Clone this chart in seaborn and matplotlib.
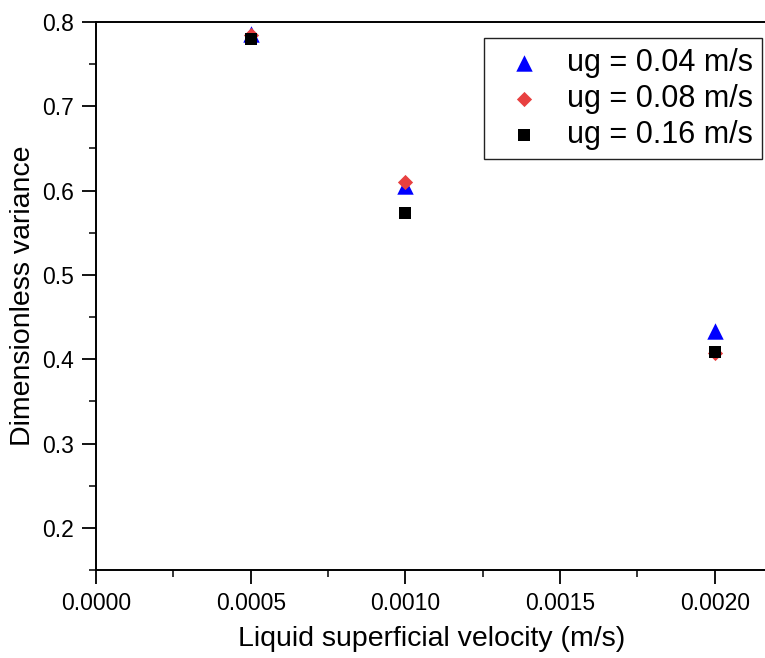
import matplotlib
matplotlib.use("Agg")
import matplotlib.pyplot as plt
import seaborn as sns
import pandas as pd

liquid_velocity = [0.0005, 0.0010, 0.0020]
ug_004 = [0.786, 0.606, 0.434]
ug_008 = [0.785, 0.610, 0.407]
ug_016 = [0.780, 0.573, 0.408]
series_labels = ["ug = 0.04 m/s", "ug = 0.08 m/s", "ug = 0.16 m/s"]
x_ticks = [0.0, 0.0005, 0.0010, 0.0015, 0.0020]
y_ticks = [0.2, 0.3, 0.4, 0.5, 0.6, 0.7, 0.8]

sns.set_theme(style="ticks")
plt.rcParams["font.family"] = ["Liberation Sans", "DejaVu Sans"]
plt.rcParams["text.color"] = "black"
plt.rcParams["axes.labelcolor"] = "black"
plt.rcParams["xtick.color"] = "black"
plt.rcParams["ytick.color"] = "black"

fig = plt.figure(figsize=(7.65, 6.58), dpi=100)
ax = fig.add_axes([96/765, 1 - 570/658, 672/765, (570 - 22)/658])

series = [
    (ug_004, series_labels[0], "#0000ff", "^", 140),
    (ug_008, series_labels[1], "#e84040", "D", 60),
    (ug_016, series_labels[2], "#000000", "s", 78),
]
for vals, lab, col, mk, size in series:
    df = pd.DataFrame({"x": liquid_velocity, "y": vals})
    sns.scatterplot(data=df, x="x", y="y", color=col, marker=mk, s=size,
                    linewidth=0, ax=ax, zorder=3, label=lab)

ax.set_xticks(x_ticks)
ax.set_xticklabels([f"{v:.4f}" for v in x_ticks])
ax.set_xticks([0.00025, 0.00075, 0.00125, 0.00175], minor=True)
ax.set_yticks(y_ticks)
ax.set_yticklabels([f"{v:.1f}" for v in y_ticks])
ax.set_yticks([0.15, 0.25, 0.35, 0.45, 0.55, 0.65, 0.75], minor=True)
ax.set_ylim(0.15, 0.8)
ax.set_xlim(0.0, 0.002172)

ax.tick_params(axis="both", which="major", direction="out", length=10, width=1.3,
               labelsize=16.5, colors="black")
ax.tick_params(axis="x", which="major", pad=6)
ax.tick_params(axis="y", which="major", pad=6)
ax.tick_params(axis="both", which="minor", direction="out", length=5, width=1.1)
for sp in ax.spines.values():
    sp.set_color("black")
    sp.set_linewidth(1.4)

ax.set_xlabel("Liquid superficial velocity (m/s)", fontsize=20.5, labelpad=8)
ax.set_ylabel("Dimensionless variance", fontsize=20.5, labelpad=4)

leg = ax.legend(loc="upper right", bbox_to_anchor=(0.991, 0.97), fontsize=22,
                frameon=True, fancybox=False, edgecolor="#222222", framealpha=1,
                handletextpad=0.4, handlelength=2.0, borderpad=0.3,
                labelspacing=0.2, borderaxespad=0.0, markerscale=1.0)
leg.get_frame().set_linewidth(1.0)

fig.savefig("out.png", dpi=100)
